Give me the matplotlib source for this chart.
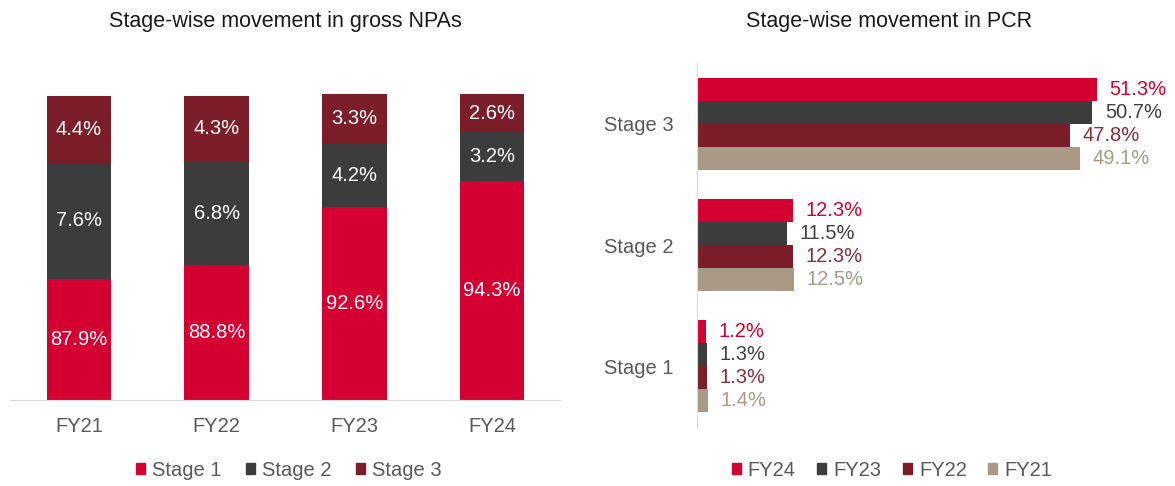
import numpy as np
import matplotlib
matplotlib.use("Agg")
import matplotlib.pyplot as plt
from matplotlib.patches import Patch

plt.rcParams['font.family'] = ['Liberation Sans', 'DejaVu Sans']

# left chart data: share of gross NPAs by stage
years = ['FY21', 'FY22', 'FY23', 'FY24']
stage1 = [87.9, 88.8, 92.6, 94.3]
stage2 = [7.6, 6.8, 4.2, 3.2]
stage3 = [4.4, 4.3, 3.3, 2.6]

# right chart data: PCR by stage
stages = ['Stage 1', 'Stage 2', 'Stage 3']
pcr_fy24 = [1.2, 12.3, 51.3]
pcr_fy23 = [1.3, 11.5, 50.7]
pcr_fy22 = [1.3, 12.3, 47.8]
pcr_fy21 = [1.4, 12.5, 49.1]

RED = '#D50032'
DARK = '#3C3C3C'
MAROON = '#7B1E2A'
BEIGE = '#A89A85'
GRAY = '#595959'
FS = 14.5

W, H = 1175, 486
fig = plt.figure(figsize=(W / 100, H / 100), dpi=100)

def box(x0, y0, x1, y1):
    return [x0 / W, 1 - y1 / H, (x1 - x0) / W, (y1 - y0) / H]

# ---- left: stacked columns (axis starts at 80%) ----
ymin, ymax = 80, 100
ax1 = fig.add_axes(box(10, 94, 561, 400))
x = np.arange(len(years))
bw = 0.47
b1 = ax1.bar(x, stage1, bw, color=RED)
b2 = ax1.bar(x, stage2, bw, bottom=stage1, color=DARK)
bot3 = np.array(stage1) + np.array(stage2)
b3 = ax1.bar(x, stage3, bw, bottom=bot3, color=MAROON)
for bars, vals in ((b1, stage1), (b2, stage2), (b3, stage3)):
    for r, v in zip(bars, vals):
        lo = max(r.get_y(), ymin)
        hi = min(r.get_y() + r.get_height(), ymax)
        ax1.text(r.get_x() + r.get_width() / 2, (lo + hi) / 2,
                 f'{v:.1f}%', ha='center', va='center', color='white', fontsize=FS)
ax1.set_xlim(-0.5, 3.5)
ax1.set_ylim(ymin, ymax)
ax1.set_xticks(x)
ax1.set_xticklabels(years, fontsize=FS, color=GRAY)
ax1.tick_params(axis='x', length=0, pad=12)
ax1.set_yticks([])
for s in ['top', 'right', 'left']:
    ax1.spines[s].set_visible(False)
ax1.spines['bottom'].set_color('#D9D9D9')
fig.text(285 / W, 1 - 22 / H, 'Stage-wise movement in gross NPAs', ha='center', va='center',
         fontsize=15.5, color='#1A1A1A')
fig.legend(handles=[Patch(color=RED, label='Stage 1'), Patch(color=DARK, label='Stage 2'),
                    Patch(color=MAROON, label='Stage 3')],
           loc='center', bbox_to_anchor=(289 / W, 1 - 470 / H), ncol=3, frameon=False,
           fontsize=FS, handlelength=0.45, handleheight=0.45, handletextpad=0.35,
           columnspacing=1.2, labelcolor=GRAY)

# ---- right: grouped horizontal bars ----
ax2 = fig.add_axes(box(697, 63, 1165, 427))
y = np.arange(len(stages))
h = 0.19
series = [(pcr_fy24, RED, RED, 1.5, 'FY24'),
          (pcr_fy23, DARK, '#404040', 0.5, 'FY23'),
          (pcr_fy22, MAROON, '#8B2D3A', -0.5, 'FY22'),
          (pcr_fy21, BEIGE, BEIGE, -1.5, 'FY21')]
for vals, c, tc, off, lab in series:
    bars = ax2.barh(y + off * h, vals, h, color=c, label=lab)
    for r, v in zip(bars, vals):
        ax2.text(v + 1.6, r.get_y() + h / 2, f'{v:.1f}%', ha='left', va='center',
                 color=tc, fontsize=FS)
ax2.set_ylim(-0.5, 2.5)
ax2.set_xlim(0, 60)
ax2.set_yticks(y)
ax2.set_yticklabels(stages, fontsize=FS, color=GRAY)
ax2.tick_params(axis='y', length=0, pad=17)
ax2.set_xticks([])
for s in ['top', 'right', 'bottom']:
    ax2.spines[s].set_visible(False)
ax2.spines['left'].set_color('#D9D9D9')
fig.text(889 / W, 1 - 22 / H, 'Stage-wise movement in PCR', ha='center', va='center',
         fontsize=15.5, color='#1A1A1A')
fig.legend(handles=[Patch(color=c, label=lab) for _, c, _, _, lab in series],
           loc='center', bbox_to_anchor=(892 / W, 1 - 470 / H), ncol=4, frameon=False,
           fontsize=FS, handlelength=0.45, handleheight=0.45, handletextpad=0.35,
           columnspacing=1.07, labelcolor=GRAY)

fig.savefig('out.png', dpi=100)
